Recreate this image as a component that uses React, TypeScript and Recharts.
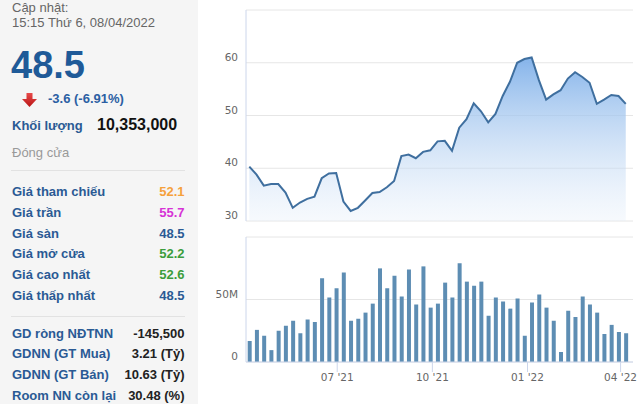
import React from 'react';
import { AreaChart, Area, BarChart, Bar, XAxis, YAxis, CartesianGrid } from 'recharts';

const DAY = 24 * 3600 * 1000;
const firstWeek = Date.UTC(2021, 3, 7);

// weekly closing price (thousand VND)
const closePrices = [
  40.3, 38.8, 36.7, 37.0, 37.0, 35.4, 32.5, 33.5, 34.2, 34.6,
  38.1, 39.0, 39.1, 33.7, 31.9, 32.5, 33.9, 35.3, 35.5, 36.4,
  37.6, 42.3, 42.6, 41.9, 43.1, 43.4, 45.1, 45.2, 43.3, 47.7,
  49.3, 52.3, 50.8, 48.7, 50.3, 53.7, 56.4, 60.0, 60.7, 61.0,
  56.7, 53.0, 54.0, 54.8, 57.0, 58.2, 57.3, 56.2, 52.2, 53.0,
  53.9, 53.7, 52.2,
];

// weekly volume (millions of shares)
const volumesM = [
  16.8, 25.7, 21, 9.5, 25, 29, 33, 23, 34, 32,
  67, 51.6, 59, 71.6, 33, 34.6, 39.5, 46.7, 74.9, 59,
  69, 52.4, 74, 46, 76.5, 43.5, 46.7, 63.5, 51.6, 79,
  64.3, 61, 64.3, 37, 51.6, 48.4, 42.7, 50.8, 21, 47.6,
  54, 43.5, 33, 8, 41, 36, 52.4, 46, 39.5, 22.4,
  29.7, 24, 23,
];

const quarterTicks = [Date.UTC(2021, 6, 1), Date.UTC(2021, 9, 1), Date.UTC(2022, 0, 1), Date.UTC(2022, 3, 1)];
const quarterLabels = ["07 '21", "10 '21", "01 '22", "04 '22"];
const priceTicks = [30, 40, 50, 60, 70];
const volumeTicks = [0, 50, 100];

const chartData = closePrices.map((close, i) => ({
  t: firstWeek + i * 7 * DAY,
  close,
  volume: volumesM[i],
}));
const xDomain = [firstWeek - 3.2 * DAY, firstWeek + 371 * DAY];

const axisFont = '"DejaVu Sans", sans-serif';
const panelFont = 'Arial, "Liberation Sans", sans-serif';
const labelBlue = '#2a5a94';

const infoRows = [
  { label: 'Giá tham chiếu', value: '52.1', color: '#f5a13c' },
  { label: 'Giá trần', value: '55.7', color: '#d633d6' },
  { label: 'Giá sàn', value: '48.5', color: labelBlue },
  { label: 'Giá mở cửa', value: '52.2', color: '#3c9d3c' },
  { label: 'Giá cao nhất', value: '52.6', color: '#3c9d3c' },
  { label: 'Giá thấp nhất', value: '48.5', color: labelBlue },
];

const foreignRows = [
  { label: 'GD ròng NĐTNN', value: '-145,500' },
  { label: 'GDNN (GT Mua)', value: '3.21 (Tỷ)' },
  { label: 'GDNN (GT Bán)', value: '10.63 (Tỷ)' },
  { label: 'Room NN còn lại', value: '30.48 (%)' },
];

const YTick = (props: any) => {
  const { x, y, payload, hideTop, suffix } = props;
  if (payload.value === hideTop) return <g />;
  const text = payload.value === 0 ? '0' : `${payload.value}${suffix}`;
  return (
    <text x={x} y={y} dy={-2} textAnchor="end" fill="#666" fontSize={10.5} fontFamily={axisFont}>
      {text}
    </text>
  );
};

const InfoPanel = () => (
  <svg width={198} height={404} style={{ position: 'absolute', left: 0, top: 0 }} fontFamily={panelFont}>
    <defs>
      <linearGradient id="arrowRed" x1="0" y1="0" x2="0" y2="1">
        <stop offset="0" stopColor="#e84a4a" />
        <stop offset="1" stopColor="#b81414" />
      </linearGradient>
    </defs>
    <rect width={198} height={404} fill="#f5f5f5" />
    <text x={12} y={12} fontSize={13} fill="#666">Cập nhật:</text>
    <text x={12} y={26.5} fontSize={13} fill="#666">15:15 Thứ 6, 08/04/2022</text>
    <text x={11} y={78.3} fontSize={38} fontWeight="bold" fill="#1f5a98">48.5</text>
    <path d="M26.5 93 H32.5 V99 H37 L29.5 107 L22 99 H26.5 Z" fill="url(#arrowRed)" />
    <text x={48} y={103} fontSize={13} fontWeight="bold" fill="#2b5fa3">-3.6 (-6.91%)</text>
    <text x={12} y={129.5} fontSize={13} fontWeight="bold" fill={labelBlue}>Khối lượng</text>
    <text x={97} y={129.5} fontSize={16} fontWeight="bold" fill="#111">10,353,000</text>
    <text x={12} y={157} fontSize={13} fill="#999">Đóng cửa</text>
    <line x1={11} x2={185} y1={170.5} y2={170.5} stroke="#e2e2e2" />
    {infoRows.map((r, i) => (
      <g key={r.label}>
        <text x={12} y={196 + i * 20.8} fontSize={13} fontWeight="bold" fill={labelBlue}>{r.label}</text>
        <text x={184.5} y={196 + i * 20.8} fontSize={13} fontWeight="bold" fill={r.color} textAnchor="end">{r.value}</text>
      </g>
    ))}
    <line x1={11} x2={185} y1={316.5} y2={316.5} stroke="#e2e2e2" />
    {foreignRows.map((r, i) => (
      <g key={r.label}>
        <text x={12} y={337.5 + i * 20.8} fontSize={13} fontWeight="bold" fill={labelBlue}>{r.label}</text>
        <text x={184.5} y={337.5 + i * 20.8} fontSize={13} fontWeight="bold" fill="#222" textAnchor="end">{r.value}</text>
      </g>
    ))}
  </svg>
);

export default function App() {
  return (
    <div style={{ position: 'absolute', left: 0, top: 0, width: 640, height: 404, background: '#fff', overflow: 'hidden' }}>
      <InfoPanel />
      <div style={{ position: 'absolute', left: 200, top: 0 }}>
        <AreaChart width={440} height={230} data={chartData} margin={{ top: 10, right: 7, bottom: 9, left: 0 }}>
          <defs>
            <linearGradient id="priceFill" x1="0" y1="0" x2="0" y2="1">
              <stop offset="0" stopColor="#7fb0e9" stopOpacity={0.95} />
              <stop offset="1" stopColor="#e3edf9" stopOpacity={0.3} />
            </linearGradient>
          </defs>
          <CartesianGrid vertical={false} stroke="#e6e6e6" />
          <XAxis dataKey="t" type="number" domain={xDomain} allowDataOverflow hide />
          <YAxis
            domain={[30, 70]}
            ticks={priceTicks}
            width={46}
            tickSize={0}
            tickMargin={8}
            tickLine={false}
            axisLine={{ stroke: '#ccd6eb' }}
            tick={(p: any) => <YTick {...p} hideTop={70} suffix="" />}
          />
          <Area
            type="linear"
            dataKey="close"
            stroke="#3f6f9f"
            strokeWidth={2}
            fill="url(#priceFill)"
            fillOpacity={1}
            dot={false}
            activeDot={false}
            isAnimationActive={false}
          />
        </AreaChart>
      </div>
      <div style={{ position: 'absolute', left: 200, top: 230 }}>
        <BarChart width={440} height={174} data={chartData} margin={{ top: 7, right: 7, bottom: 0, left: 0 }}>
          <CartesianGrid vertical={false} stroke="#e6e6e6" />
          <XAxis
            dataKey="t"
            type="number"
            domain={xDomain}
            allowDataOverflow
            ticks={quarterTicks}
            tickFormatter={(v: number) => quarterLabels[quarterTicks.indexOf(v)] ?? ''}
            height={42}
            tickSize={10}
            axisLine={{ stroke: '#ccd6eb' }}
            tickLine={{ stroke: '#ccd6eb' }}
            tick={{ fontSize: 10.5, fill: '#666', fontFamily: axisFont }}
            interval={0}
          />
          <YAxis
            domain={[0, 100]}
            ticks={volumeTicks}
            width={46}
            tickSize={0}
            tickMargin={8}
            tickLine={false}
            axisLine={{ stroke: '#ccd6eb' }}
            tick={(p: any) => <YTick {...p} hideTop={100} suffix="M" />}
          />
          <Bar dataKey="volume" fill="#5d8db3" barSize={4} isAnimationActive={false} />
        </BarChart>
      </div>
    </div>
  );
}
